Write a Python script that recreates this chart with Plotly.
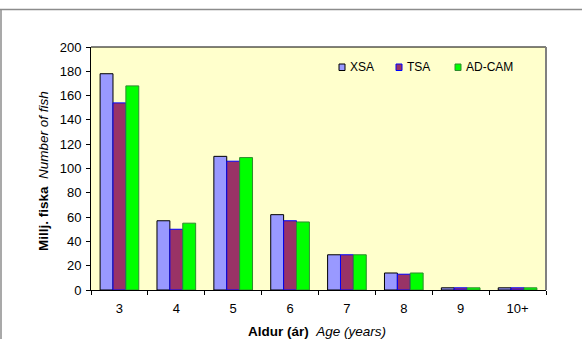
import plotly.graph_objects as go

# Stock numbers by age group, three assessment models
ages = ["3", "4", "5", "6", "7", "8", "9", "10+"]
xsa = [178, 57, 110, 62, 29, 14, 1.8, 1.8]
tsa = [154, 50, 106, 57, 29, 13, 1.8, 1.8]
adcam = [168, 55, 109, 56, 29, 14, 1.8, 1.8]

series_names = ["XSA", "TSA", "AD-CAM"]
fill_colors = ["#9999FF", "#993366", "#00FF00"]
edge_colors = ["#000000", "#0000FF", "#2E8B2E"]
# left edge of each legend key, in pixels
legend_key_x = [339, 396, 455]

W, H = 582, 339
L, R, T, B = 91, 36, 47, 49
pw, ph = W - L - R, H - T - B


def px_x(px):
    return (px - L) / pw


def px_y(py):
    return (H - B - py) / ph


FONT = "Liberation Sans, Arial, sans-serif"

fig = go.Figure()
for name, vals, fc, ec in zip(series_names, [xsa, tsa, adcam], fill_colors, edge_colors):
    fig.add_trace(go.Bar(
        x=ages, y=vals, name=name, showlegend=False,
        marker=dict(color=fc, line=dict(color=ec, width=1)),
    ))

shapes = [
    # plot area: black top edge, grey right edge
    dict(type="line", xref="paper", yref="paper", x0=0, x1=1, y0=1, y1=1,
         line=dict(color="#000000", width=1)),
    dict(type="line", xref="paper", yref="paper", x0=1, x1=1, y0=0, y1=1,
         line=dict(color="#808080", width=2)),
    # outer chart frame
    dict(type="line", xref="paper", yref="paper", x0=px_x(0), x1=px_x(W),
         y0=px_y(9.5), y1=px_y(9.5), line=dict(color="#8C8C8C", width=1.5)),
    dict(type="line", xref="paper", yref="paper", x0=px_x(1), x1=px_x(1),
         y0=px_y(9.5), y1=px_y(H), line=dict(color="#8C8C8C", width=1.5)),
]

annotations = [
    dict(text="<b>Aldur (ár)</b>&nbsp;&nbsp;<i>Age (years)</i>",
         xref="paper", yref="paper", x=px_x(317), y=px_y(332),
         xanchor="center", yanchor="middle", showarrow=False,
         font=dict(size=13.5, family=FONT)),
    dict(text="<b>Millj. fiska</b>&nbsp;&nbsp;<i>Number of fish</i>",
         xref="paper", yref="paper", x=px_x(43), y=px_y(171),
         xanchor="center", yanchor="middle", showarrow=False, textangle=-90,
         font=dict(size=13.5, family=FONT)),
]

# legend keys drawn as small squares with labels
for name, fc, ec, kx in zip(series_names, fill_colors, edge_colors, legend_key_x):
    shapes.append(dict(type="rect", xref="paper", yref="paper",
                       x0=px_x(kx), x1=px_x(kx + 6), y0=px_y(64), y1=px_y(70.5),
                       fillcolor=fc, line=dict(color=ec, width=1)))
    annotations.append(dict(text=name, xref="paper", yref="paper",
                            x=px_x(kx + 9), y=px_y(67.3), xanchor="left", yanchor="middle",
                            showarrow=False, font=dict(size=12, family=FONT)))

fig.update_layout(
    width=W, height=H,
    margin=dict(l=L, r=R, t=T, b=B, pad=0, autoexpand=False),
    paper_bgcolor="#FFFFFF",
    plot_bgcolor="#FFFFCC",
    barmode="group", bargap=0.32, bargroupgap=0,
    font=dict(family=FONT, size=13, color="#000000"),
    showlegend=False,
    xaxis=dict(
        type="category", showline=True, linecolor="#000000", linewidth=1,
        ticks="outside", tickson="boundaries", ticklen=4, tickcolor="#000000",
        showgrid=False, zeroline=False, ticklabelstandoff=6,
    ),
    yaxis=dict(
        range=[0, 200], dtick=20, showline=True, linecolor="#000000", linewidth=1,
        ticks="outside", ticklen=4, tickcolor="#000000",
        showgrid=False, zeroline=False, ticklabelstandoff=2,
    ),
    shapes=shapes,
    annotations=annotations,
)

fig.write_html("out.html")
